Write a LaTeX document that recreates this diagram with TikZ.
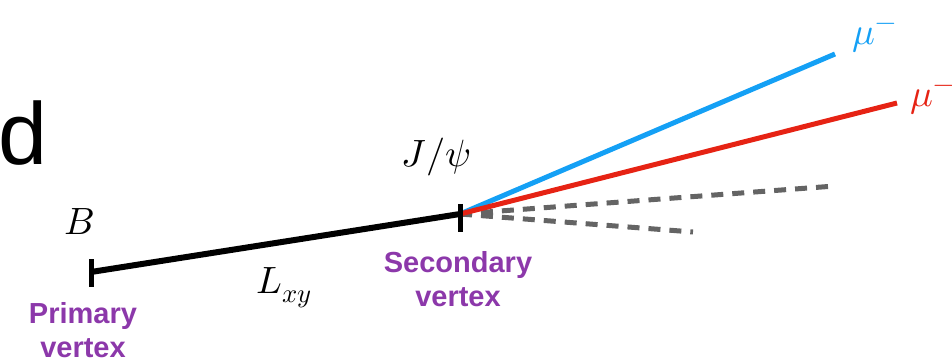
\documentclass[tikz,border=0pt]{standalone}
\usepackage{fontspec}
\setmainfont{Liberation Sans}
\usepackage{unicode-math}
\setmathfont{Latin Modern Math}
\definecolor{vpurple}{RGB}{140,56,170}
\definecolor{mublue}{RGB}{20,160,245}
\definecolor{mured}{RGB}{230,35,20}
\definecolor{dgrey}{RGB}{100,100,100}
\tikzset{
  vlabel/.style={text=vpurple,font=\fontsize{29}{34}\selectfont\bfseries,align=center,inner sep=0pt},
  mlabel/.style={font=\fontsize{38}{40}\selectfont,inner sep=0pt},
  track/.style={line width=5pt},
  ghost/.style={line width=5pt,dgrey,dash pattern=on 12pt off 9pt},
  tick/.style={line width=5pt}
}
\begin{document}
\begin{tikzpicture}[x=1pt,y=-1pt]
\useasboundingbox (0,0) rectangle (952,363);
\coordinate (pv) at (91,272);
\coordinate (sv) at (460,214);
\coordinate (pvt) at (91,259);
\coordinate (pvb) at (91,287);
\coordinate (svt) at (460,204);
\coordinate (svb) at (460,232);
\coordinate (mu1) at (835,54);
\coordinate (mu2) at (897,103);
\coordinate (g1) at (835,186);
\coordinate (g2) at (693,232);
\draw[ghost] (sv) -- (g1);
\draw[ghost] (sv) -- (g2);
\draw[track,mublue] (sv) -- (mu1);
\draw[track,mured] (sv) -- (mu2);
\draw[line width=6pt] (pv) -- (sv);
\draw[tick] (pvt) -- (pvb);
\draw[tick] (svt) -- (svb);
\node[font=\fontsize{88}{88}\selectfont,anchor=base west,inner sep=0pt] (d) at (-2,165) {d};
\node[mlabel] (B) at (79,222) {$B$};
\node[mlabel] (jpsi) at (436,157) {$J/\psi$};
\node[mlabel] (lxy) at (284,288) {$L_{xy}$};
\node[mlabel,text=mublue,anchor=west] (m1) at (852,38) {$\mu^{-}$};
\node[mlabel,text=mured,anchor=west] (m2) at (910,100) {$\mu^{-}$};
\node[vlabel] (svl) at (458,279) {Secondary\\vertex};
\node[vlabel] (pvl) at (83,330) {Primary\\vertex};
\end{tikzpicture}
\end{document}
